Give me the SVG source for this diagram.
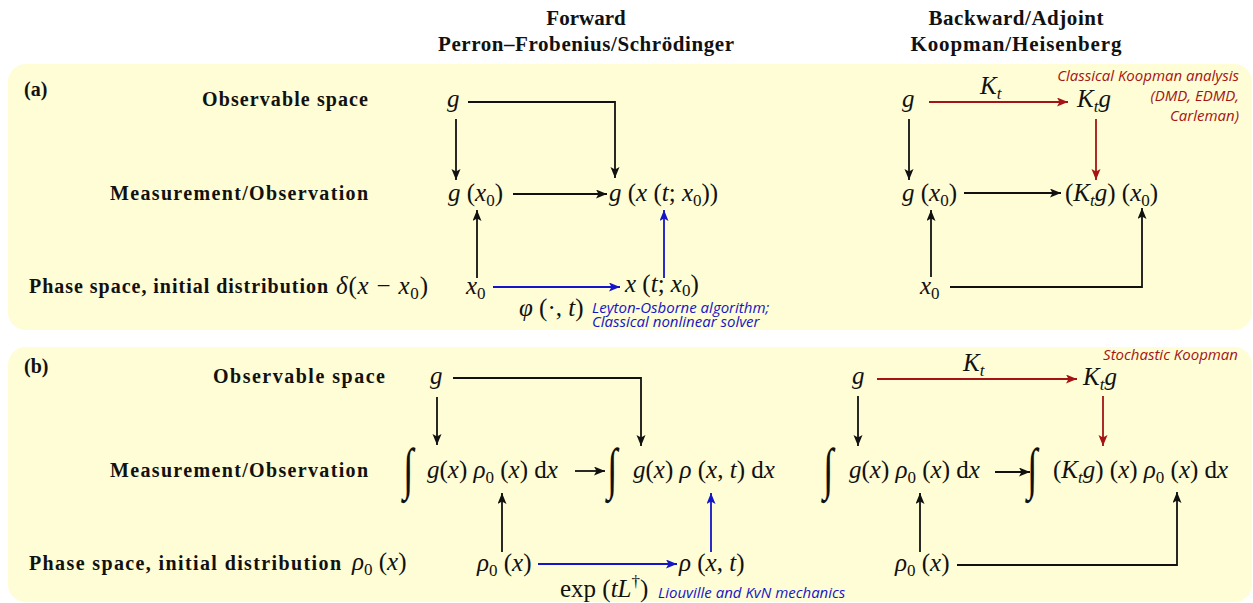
<svg xmlns="http://www.w3.org/2000/svg" width="1253" height="603" viewBox="0 0 1253 603">
<style>
.bg{fill:#FEFDD5;stroke:none}
.lbl{font-family:"Liberation Serif",serif;font-weight:bold;font-size:20px;fill:#111}
.hd{font-family:"Liberation Serif",serif;font-weight:bold;font-size:21px;fill:#111;text-anchor:middle}
.m{font-family:"Liberation Serif",serif;font-size:25px;fill:#111}
.i{font-style:italic}
.sub{font-size:17px}
.int{font-family:"Liberation Serif",serif;font-size:54px;fill:#111}
.note{font-family:"Open Sans",sans-serif;font-style:italic;font-size:15px}
.red{fill:#A51414}
.blue{fill:#1414C8}
.c{fill:none;stroke:#111;stroke-width:1.8}
.cr{fill:none;stroke:#A51414;stroke-width:1.8}
.cb{fill:none;stroke:#1414C8;stroke-width:1.8}
</style>
<defs>
<marker id="ak" markerUnits="userSpaceOnUse" markerWidth="12" markerHeight="10" refX="11" refY="4.5" orient="auto"><path d="M0,0 L11,4.5 L0,9 L2.5,4.5 z" fill="#111"/></marker>
<marker id="ar" markerUnits="userSpaceOnUse" markerWidth="12" markerHeight="10" refX="11" refY="4.5" orient="auto"><path d="M0,0 L11,4.5 L0,9 L2.5,4.5 z" fill="#A51414"/></marker>
<marker id="ab" markerUnits="userSpaceOnUse" markerWidth="12" markerHeight="10" refX="11" refY="4.5" orient="auto"><path d="M0,0 L11,4.5 L0,9 L2.5,4.5 z" fill="#1414C8"/></marker>
</defs>
<rect width="1253" height="603" fill="#fff"/>
<g id="headers">
<text class="hd" x="586" y="25">Forward</text>
<text class="hd" x="586" y="51" textLength="296">Perron–Frobenius/Schrödinger</text>
<text class="hd" x="1016" y="25" textLength="175">Backward/Adjoint</text>
<text class="hd" x="1016" y="51" textLength="211">Koopman/Heisenberg</text>
</g>
<g id="panel-a">
<rect class="bg" x="8" y="64" width="1244" height="266" rx="18"/>
<text class="lbl" x="24" y="96">(a)</text>
<text class="lbl" x="202" y="106" textLength="166">Observable space</text>
<text class="lbl" x="110" y="200" textLength="258">Measurement/Observation</text>
<text class="lbl" x="29" y="293" textLength="299">Phase space, initial distribution</text>
<text class="m" x="336" y="294" textLength="92"><tspan class="i">δ</tspan>(<tspan class="i">x</tspan> − <tspan class="i">x</tspan><tspan class="sub" dy="5">0</tspan><tspan dy="-5">)</tspan></text>
</g>
<g id="panel-b">
<rect class="bg" x="8" y="347" width="1244" height="255" rx="18"/>
<text class="lbl" x="24" y="373">(b)</text>
<text class="lbl" x="213" y="383" textLength="172">Observable space</text>
<text class="lbl" x="110" y="477" textLength="258">Measurement/Observation</text>
<text class="lbl" x="29" y="570" textLength="312">Phase space, initial distribution</text>
<text class="m" x="352" y="570"><tspan class="i">ρ</tspan><tspan class="sub" dy="5">0</tspan><tspan dy="-5"> (</tspan><tspan class="i">x</tspan>)</text>
</g>
<g id="connectors">
<path class="c" d="M468,102 H615 V178" marker-end="url(#ak)"/>
<path class="c" d="M456,119 V180" marker-end="url(#ak)"/>
<path class="c" d="M513,194 H607" marker-end="url(#ak)"/>
<path class="c" d="M477,278 V210" marker-end="url(#ak)"/>
<path class="cb" d="M664,278 V210" marker-end="url(#ab)"/>
<path class="cb" d="M493,287 H620" marker-end="url(#ab)"/>
<path class="cr" d="M929,102 H1068" marker-end="url(#ar)"/>
<path class="cr" d="M1096,119 V180" marker-end="url(#ar)"/>
<path class="c" d="M909,119 V180" marker-end="url(#ak)"/>
<path class="c" d="M964,193 H1061" marker-end="url(#ak)"/>
<path class="c" d="M931,277 V210" marker-end="url(#ak)"/>
<path class="c" d="M950,287 H1142 V208" marker-end="url(#ak)"/>
<path class="c" d="M453,378 H641 V446" marker-end="url(#ak)"/>
<path class="c" d="M437,397 V445" marker-end="url(#ak)"/>
<path class="c" d="M575,471 H605" marker-end="url(#ak)"/>
<path class="c" d="M502,552 V493" marker-end="url(#ak)"/>
<path class="cb" d="M711,552 V493" marker-end="url(#ab)"/>
<path class="cb" d="M538,564 H677" marker-end="url(#ab)"/>
<path class="cr" d="M877,379 H1077" marker-end="url(#ar)"/>
<path class="cr" d="M1103,396 V446" marker-end="url(#ar)"/>
<path class="c" d="M858,396 V446" marker-end="url(#ak)"/>
<path class="c" d="M995,472 H1030" marker-end="url(#ak)"/>
<path class="c" d="M920,552 V493" marker-end="url(#ak)"/>
<path class="c" d="M957,565 H1177 V492" marker-end="url(#ak)"/>
</g>
<g id="a-fwd-g"><text class="m i" x="447" y="107">g</text></g>
<g id="a-fwd-gx0"><text class="m" x="448" y="201"><tspan class="i">g</tspan> (<tspan class="i">x</tspan><tspan class="sub" dy="5">0</tspan><tspan dy="-5">)</tspan></text></g>
<g id="a-fwd-gxt"><text class="m" x="609" y="201"><tspan class="i">g</tspan> (<tspan class="i">x</tspan> (<tspan class="i">t</tspan>; <tspan class="i">x</tspan><tspan class="sub" dy="5">0</tspan><tspan dy="-5">))</tspan></text></g>
<g id="a-fwd-x0"><text class="m" x="466" y="294"><tspan class="i">x</tspan><tspan class="sub" dy="5">0</tspan></text></g>
<g id="a-fwd-xt"><text class="m" x="625" y="292"><tspan class="i">x</tspan> (<tspan class="i">t</tspan>; <tspan class="i">x</tspan><tspan class="sub" dy="4">0</tspan><tspan dy="-4">)</tspan></text></g>
<g id="a-fwd-phi">
<text class="m" x="519" y="316" font-size="24"><tspan class="i">φ</tspan> (·, <tspan class="i">t</tspan>)</text>
<text class="note blue" x="592" y="313" font-size="14.5">Leyton-Osborne algorithm;</text>
<text class="note blue" x="592" y="327" font-size="14.5">Classical nonlinear solver</text>
</g>
<g id="a-bwd-g"><text class="m i" x="902" y="107">g</text></g>
<g id="a-bwd-kt"><text class="m" x="980" y="94"><tspan class="i">K</tspan><tspan class="sub i" dy="5">t</tspan></text></g>
<g id="a-bwd-ktg"><text class="m" x="1077" y="107"><tspan class="i">K</tspan><tspan class="sub i" dy="5">t</tspan><tspan class="i" dy="-5">g</tspan></text></g>
<g id="a-bwd-note">
<text class="note red" x="1239" y="81" text-anchor="end">Classical Koopman analysis</text>
<text class="note red" x="1239" y="101" text-anchor="end">(DMD, EDMD,</text>
<text class="note red" x="1239" y="121" text-anchor="end">Carleman)</text>
</g>
<g id="a-bwd-gx0"><text class="m" x="902" y="201"><tspan class="i">g</tspan> (<tspan class="i">x</tspan><tspan class="sub" dy="5">0</tspan><tspan dy="-5">)</tspan></text></g>
<g id="a-bwd-ktgx0"><text class="m" x="1065" y="201">(<tspan class="i">K</tspan><tspan class="sub i" dy="5">t</tspan><tspan class="i" dy="-5">g</tspan>) (<tspan class="i">x</tspan><tspan class="sub" dy="5">0</tspan><tspan dy="-5">)</tspan></text></g>
<g id="a-bwd-x0"><text class="m" x="920" y="294"><tspan class="i">x</tspan><tspan class="sub" dy="5">0</tspan></text></g>
<g id="b-fwd-g"><text class="m i" x="430" y="384">g</text></g>
<g id="b-fwd-int0">
<text class="int" transform="translate(403,488) scale(0.7,1.05)">∫</text>
<text class="m" x="427" y="478"><tspan class="i">g</tspan>(<tspan class="i">x</tspan>) <tspan class="i">ρ</tspan><tspan class="sub" dy="5">0</tspan><tspan dy="-5"> (</tspan><tspan class="i">x</tspan>) d<tspan class="i">x</tspan></text>
</g>
<g id="b-fwd-intt">
<text class="int" transform="translate(607,488) scale(0.7,1.05)">∫</text>
<text class="m" x="633" y="478"><tspan class="i">g</tspan>(<tspan class="i">x</tspan>) <tspan class="i">ρ</tspan> (<tspan class="i">x</tspan>, <tspan class="i">t</tspan>) d<tspan class="i">x</tspan></text>
</g>
<g id="b-fwd-rho0"><text class="m" x="477" y="571"><tspan class="i">ρ</tspan><tspan class="sub" dy="5">0</tspan><tspan dy="-5"> (</tspan><tspan class="i">x</tspan>)</text></g>
<g id="b-fwd-rhot"><text class="m" x="679" y="571"><tspan class="i">ρ</tspan> (<tspan class="i">x</tspan>, <tspan class="i">t</tspan>)</text></g>
<g id="b-fwd-exp">
<text class="m" x="560" y="597">exp (<tspan class="i">tL</tspan><tspan class="sub" dy="-10">†</tspan><tspan dy="10">)</tspan></text>
<text class="note blue" x="658" y="598">Liouville and KvN mechanics</text>
</g>
<g id="b-bwd-g"><text class="m i" x="852" y="384">g</text></g>
<g id="b-bwd-kt"><text class="m" x="963" y="371"><tspan class="i">K</tspan><tspan class="sub i" dy="5">t</tspan></text></g>
<g id="b-bwd-ktg"><text class="m" x="1083" y="385"><tspan class="i">K</tspan><tspan class="sub i" dy="5">t</tspan><tspan class="i" dy="-5">g</tspan></text></g>
<g id="b-bwd-note"><text class="note red" x="1238" y="360" text-anchor="end">Stochastic Koopman</text></g>
<g id="b-bwd-int0">
<text class="int" transform="translate(823,488) scale(0.7,1.05)">∫</text>
<text class="m" x="849" y="478"><tspan class="i">g</tspan>(<tspan class="i">x</tspan>) <tspan class="i">ρ</tspan><tspan class="sub" dy="5">0</tspan><tspan dy="-5"> (</tspan><tspan class="i">x</tspan>) d<tspan class="i">x</tspan></text>
</g>
<g id="b-bwd-intk">
<text class="int" transform="translate(1027,488) scale(0.7,1.05)">∫</text>
<text class="m" x="1053" y="478">(<tspan class="i">K</tspan><tspan class="sub i" dy="5">t</tspan><tspan class="i" dy="-5">g</tspan>) (<tspan class="i">x</tspan>) <tspan class="i">ρ</tspan><tspan class="sub" dy="5">0</tspan><tspan dy="-5"> (</tspan><tspan class="i">x</tspan>) d<tspan class="i">x</tspan></text>
</g>
<g id="b-bwd-rho0"><text class="m" x="895" y="571"><tspan class="i">ρ</tspan><tspan class="sub" dy="5">0</tspan><tspan dy="-5"> (</tspan><tspan class="i">x</tspan>)</text></g>
</svg>
